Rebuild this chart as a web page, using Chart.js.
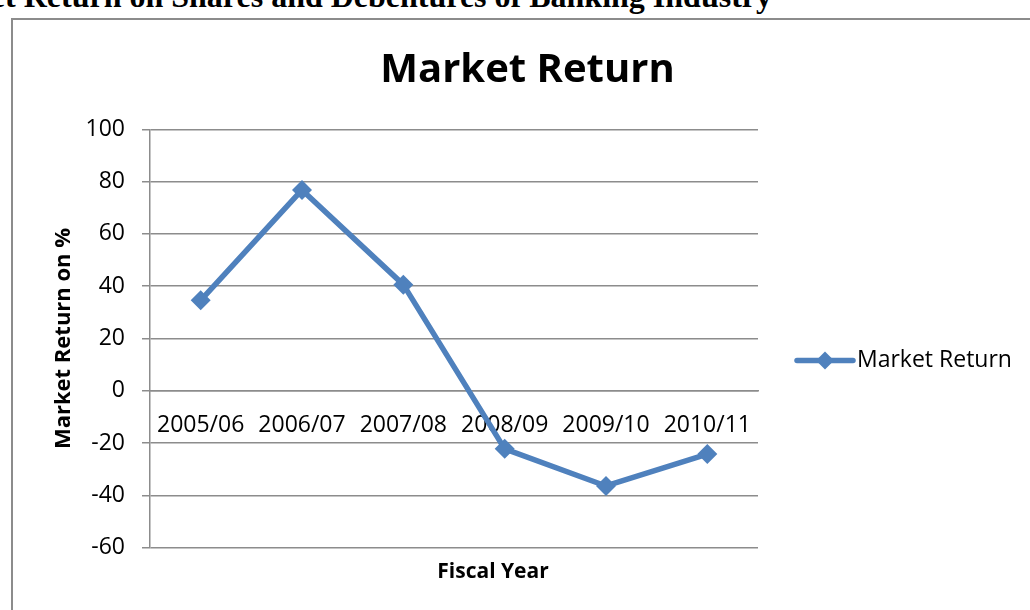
<!DOCTYPE html>
<html>
<head>
<meta charset="utf-8">
<script src="https://cdn.jsdelivr.net/npm/chart.js@4.4.1/dist/chart.umd.min.js"></script>
<style>
  html, body { margin: 0; padding: 0; background: #fff; width: 1030px; height: 610px; overflow: hidden; position: relative; }
  #heading { position: absolute; right: 258px; top: -20px; font: bold 32px "Liberation Serif", "Times New Roman", serif; line-height: 32px; white-space: nowrap; color: #000; }
  #frame { position: absolute; left: 11px; top: 18px; width: 1060px; height: 640px; border: 2px solid #8c8c8c; box-sizing: border-box; }
  #wrap { position: absolute; left: 13px; top: 20px; width: 1017px; height: 590px; }
</style>
</head>
<body>
<div id="heading">Market Return on Shares and Debentures of Banking Industry</div>
<div id="frame"></div>
<div id="wrap"><canvas id="chart" width="1017" height="590"></canvas></div>
<script>
// Fiscal years on the category axis
const categories = ['2005/06', '2006/07', '2007/08', '2008/09', '2009/10', '2010/11'];
// Market return (%) per fiscal year
const marketReturn = [34.6, 76.8, 40.6, -22.2, -36.4, -24.2];
// Value axis range and step
const yMin = -60;
const yMax = 100;
const yStep = 20;

const FONT = '"Open Sans", "Liberation Sans", sans-serif';
const BLUE = '#4F81BD';
const GRID = '#8c8c8c';

// Chart title, axis title and a line+diamond legend in the Excel style
const decorations = {
  id: 'decorations',
  afterDraw(chart) {
    const { ctx, chartArea } = chart;
    const ds = chart.data.datasets[0];
    ctx.save();
    ctx.fillStyle = '#000';
    ctx.textBaseline = 'middle';
    ctx.textAlign = 'center';

    ctx.font = 'bold 40px ' + FONT;
    ctx.fillText('Market Return', chart.width / 2 + 6, 51);

    ctx.font = 'bold 21px ' + FONT;
    ctx.fillText('Fiscal Year', 480, chartArea.bottom + 24);

    const lx = chartArea.right + 39;
    const ly = (chartArea.top + chartArea.bottom) / 2 + 22;
    ctx.strokeStyle = ds.borderColor;
    ctx.lineWidth = ds.borderWidth;
    ctx.lineCap = 'round';
    ctx.beginPath();
    ctx.moveTo(lx, ly);
    ctx.lineTo(lx + 56, ly);
    ctx.stroke();
    ctx.fillStyle = ds.pointBackgroundColor;
    Chart.helpers.drawPoint(ctx, { pointStyle: 'rectRot', radius: 9, borderWidth: 0, rotation: 0 }, lx + 28, ly);

    ctx.fillStyle = '#000';
    ctx.textAlign = 'left';
    ctx.font = '23px ' + FONT;
    ctx.fillText(ds.label, lx + 60, ly);
    ctx.restore();
  }
};

new Chart(document.getElementById('chart'), {
  type: 'line',
  data: {
    labels: categories,
    datasets: [{
      label: 'Market Return',
      data: marketReturn,
      borderColor: BLUE,
      backgroundColor: BLUE,
      pointBackgroundColor: BLUE,
      pointBorderColor: BLUE,
      borderWidth: 5.5,
      pointStyle: 'rectRot',
      pointRadius: 10,
      pointBorderWidth: 0,
      tension: 0,
      borderJoinStyle: 'round'
    }]
  },
  options: {
    responsive: false,
    animation: false,
    events: [],
    layout: { padding: { top: 109.3, left: 0, right: 272, bottom: 62.3 } },
    plugins: {
      legend: { display: false },
      title: { display: false },
      tooltip: { enabled: false }
    },
    scales: {
      x: {
        axis: 'x',
        type: 'category',
        position: { y: 0 },
        offset: true,
        grid: { display: false, drawTicks: false },
        border: { display: true, color: GRID, width: 1.5 },
        ticks: { color: '#000', font: { family: FONT, size: 23 }, padding: 21, maxRotation: 0, autoSkip: false }
      },
      y: {
        min: yMin,
        max: yMax,
        afterFit(scale) { scale.width = 137; },
        grid: { color: GRID, lineWidth: 1.5, tickLength: 8, drawTicks: true },
        border: { display: true, color: GRID, width: 1.5 },
        ticks: { stepSize: yStep, color: '#000', font: { family: FONT, size: 23 }, padding: 17 },
        title: {
          display: true,
          text: 'Market Return on %',
          color: '#000',
          font: { family: FONT, size: 22, weight: 'bold' },
          padding: { top: 38, bottom: 0 }
        }
      }
    }
  },
  plugins: [decorations]
});
</script>
</body>
</html>
